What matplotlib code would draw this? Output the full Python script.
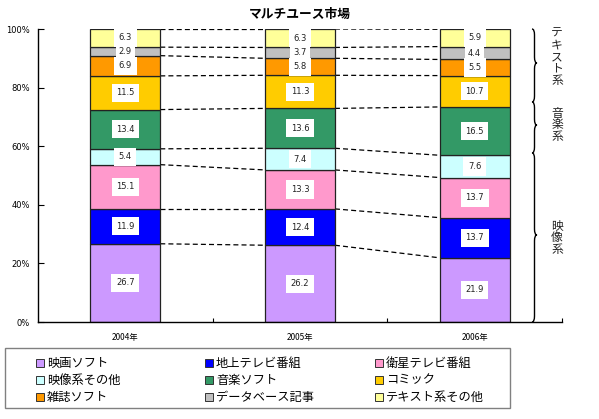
import matplotlib
matplotlib.use("Agg")
import matplotlib.pyplot as plt
from matplotlib.path import Path
from matplotlib.patches import PathPatch, Rectangle
import matplotlib.transforms as mtransforms
import numpy as np

plt.rcParams['font.family'] = ['Noto Sans CJK JP', 'DejaVu Sans']

years = ["2004年", "2005年", "2006年"]
categories = ["映画ソフト", "地上テレビ番組", "衛星テレビ番組", "映像系その他",
              "音楽ソフト", "コミック", "雑誌ソフト", "データベース記事", "テキスト系その他"]
values = {
    "映画ソフト":       [26.7, 26.2, 21.9],
    "地上テレビ番組":   [11.9, 12.4, 13.7],
    "衛星テレビ番組":   [15.1, 13.3, 13.7],
    "映像系その他":     [5.4, 7.4, 7.6],
    "音楽ソフト":       [13.4, 13.6, 16.5],
    "コミック":         [11.5, 11.3, 10.7],
    "雑誌ソフト":       [6.9, 5.8, 5.5],
    "データベース記事": [2.9, 3.7, 4.4],
    "テキスト系その他": [6.3, 6.3, 5.9],
}
colors = ["#CC99FF", "#0000FF", "#FF99CC", "#CCFFFF", "#339966",
          "#FFCC00", "#FF9900", "#C0C0C0", "#FFFF99"]
yticks = [0, 20, 40, 60, 80, 100]
ytick_labels = ["0%", "20%", "40%", "60%", "80%", "100%"]
title = "マルチユース市場"
group_labels = ["テキスト系", "音楽系", "映像系"]

W, H = 599, 419
fig = plt.figure(figsize=(W / 100, H / 100), dpi=100)
ax = fig.add_axes([38 / W, 1 - 322 / H, 524 / W, 293 / H])

x = np.arange(len(years))
bw = 0.4
bottoms = np.zeros(len(years))
for cat, col in zip(categories, colors):
    v = np.array(values[cat])
    ax.bar(x, v, bw, bottom=bottoms, color=col, edgecolor="#222222", linewidth=0.9, zorder=2)
    for xi, vi, bi in zip(x, v, bottoms):
        pad = 0.55 if vi > 5 else 0.35
        ax.text(xi, bi + vi / 2, f"{vi:.1f}", ha="center", va="center", fontsize=6,
                family=["Liberation Sans Narrow", "DejaVu Sans"], color="#222222",
                bbox=dict(boxstyle=f"square,pad={pad}", fc="white", ec="none"), zorder=4)
    bottoms = bottoms + v

# dashed connectors between bars at each cumulative boundary
cums = np.array([np.cumsum([values[c][i] for c in categories]) for i in range(len(years))])
cums = np.hstack([np.zeros((len(years), 1)), cums])
for i in range(len(years) - 1):
    for k in range(1, cums.shape[1]):
        y0 = min(cums[i, k], 100)
        y1 = min(cums[i + 1, k], 100)
        ax.plot([x[i] + bw / 2, x[i + 1] - bw / 2], [y0, y1], color="black",
                linestyle=(0, (4, 2.5)), linewidth=0.9, zorder=1)

ax.set_xlim(-0.5, 2.5)
ax.set_ylim(0, 100)
ax.set_yticks(yticks)
ax.set_yticklabels(ytick_labels, fontsize=6, family=["Liberation Sans Narrow", "DejaVu Sans"])
ax.set_xticks([0.5, 1.5, 2.5])
ax.set_xticklabels([])
ax.set_xticks(x, minor=True)
ax.set_xticklabels(years, minor=True, fontsize=6)
ax.tick_params(axis="x", which="minor", length=0, pad=8)
ax.tick_params(axis="x", which="major", direction="in", length=3, width=0.8)
ax.tick_params(axis="y", direction="in", length=4, width=0.8, pad=6, colors="black")
for s in ["top", "right"]:
    ax.spines[s].set_visible(False)
for s in ["left", "bottom"]:
    ax.spines[s].set_linewidth(1.0)

fig.text(0.5, 1 - 14 / H, title, ha="center", va="center", fontsize=9.2, fontweight="bold")

# braces on the right
trans = mtransforms.blended_transform_factory(ax.transAxes, ax.transData)
def brace(ytop, ybot, ytip):
    x0 = (532 - 38) / 524
    w = 5 / 524
    r = 2.0
    verts = [(x0, ytop), (x0 + w / 2, ytop), (x0 + w / 2, ytop - r),
             (x0 + w / 2, ytip + r),
             (x0 + w / 2, ytip), (x0 + w, ytip),
             (x0 + w / 2, ytip), (x0 + w / 2, ytip - r),
             (x0 + w / 2, ybot + r),
             (x0 + w / 2, ybot), (x0, ybot)]
    codes = [Path.MOVETO, Path.CURVE3, Path.CURVE3, Path.LINETO,
             Path.CURVE3, Path.CURVE3, Path.CURVE3, Path.CURVE3,
             Path.LINETO, Path.CURVE3, Path.CURVE3]
    ax.add_patch(PathPatch(Path(verts, codes), transform=trans, fc="none",
                           ec="black", lw=1.0, clip_on=False))

brace_spans = [(100, 75.1, 88.4), (75.1, 57.7, 67.2), (57.7, 0, 29.7)]
label_top = [33, 113, 226]
char_step = 11.8
for (yt, yb, ym), lab, ly in zip(brace_spans, group_labels, label_top):
    brace(yt, yb, ym)
    for j, ch in enumerate(lab):
        fig.text(557 / W, 1 - (ly + j * char_step) / H, ch, ha="center", va="center",
                 fontsize=8.5, color="#222222")

# legend drawn manually
fig.patches.append(Rectangle((5 / W, 1 - 408 / H), 505 / W, 60 / H, transform=fig.transFigure,
                             fc="white", ec="#808080", lw=1.0))
col_x = [36, 205, 375]
row_y = [363, 380, 397]
for idx, (cat, col) in enumerate(zip(categories, colors)):
    r, c = divmod(idx, 3)
    px, py = col_x[c], row_y[r]
    fig.patches.append(Rectangle((px / W, 1 - (py + 4) / H), 8 / W, 8 / H,
                                 transform=fig.transFigure, fc=col, ec="#333333", lw=0.7))
    fig.text((px + 11) / W, 1 - py / H, cat, ha="left", va="center", fontsize=8.8)

fig.savefig("out.png", dpi=100)
